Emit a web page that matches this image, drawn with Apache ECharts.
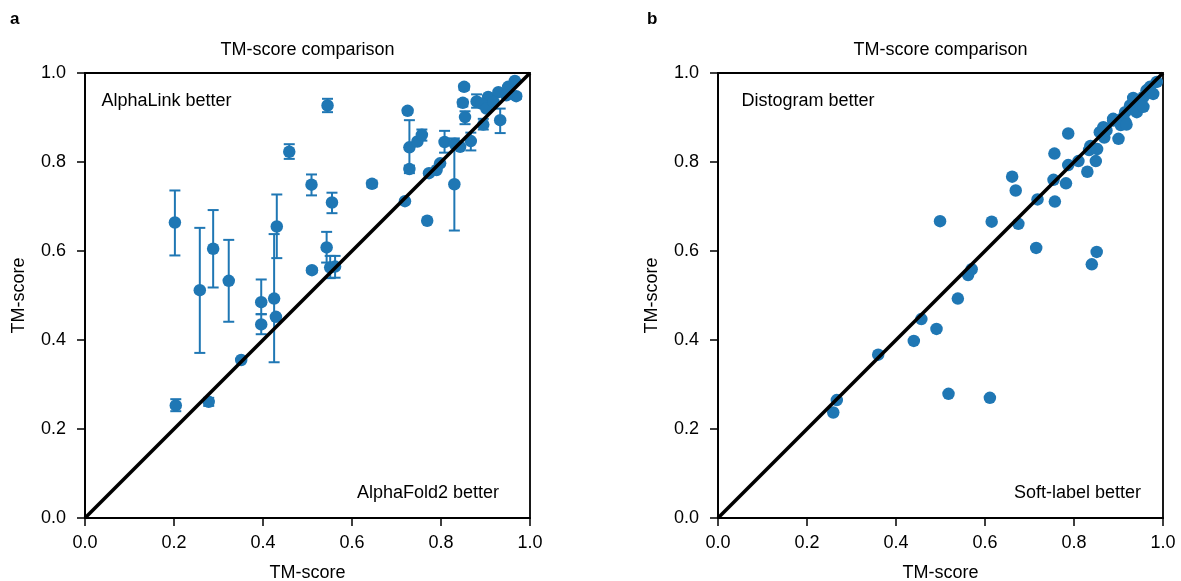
<!DOCTYPE html>
<html>
<head>
<meta charset="utf-8">
<script src="https://cdn.jsdelivr.net/npm/echarts@6/dist/echarts.min.js"></script>
<style>
  html, body { margin: 0; padding: 0; background: #fff; }
  #chart { width: 1181px; height: 581px; }
</style>
</head>
<body>
<div id="chart"></div>
<script>
// panel a: AlphaLink (y) vs AlphaFold2 (x), with error range on y
let aX = [0.202, 0.204, 0.258, 0.278, 0.288, 0.323, 0.351, 0.396, 0.396, 0.425, 0.431, 0.429, 0.459, 0.509, 0.510,
  0.545, 0.543, 0.555, 0.551, 0.562, 0.645, 0.719, 0.725, 0.729, 0.729, 0.747, 0.757, 0.769, 0.773, 0.790,
  0.798, 0.808, 0.830, 0.831, 0.843, 0.852, 0.849, 0.854, 0.867, 0.880, 0.895, 0.933, 0.906, 0.929, 0.951,
  0.966, 0.969, 0.891, 0.902, 0.918, 0.947]
let aY = [0.664, 0.253, 0.512, 0.261, 0.605, 0.533, 0.355, 0.485, 0.435, 0.493, 0.655, 0.452, 0.823, 0.749, 0.557,
  0.927, 0.608, 0.709, 0.563, 0.565, 0.751, 0.712, 0.915, 0.833, 0.784, 0.846, 0.861, 0.668, 0.775, 0.782,
  0.797, 0.845, 0.750, 0.841, 0.834, 0.969, 0.933, 0.901, 0.847, 0.936, 0.884, 0.894, 0.946, 0.957, 0.969,
  0.982, 0.948, 0.931, 0.920, 0.935, 0.950]
let aLow = [0.590, 0.240, 0.371, 0.252, 0.518, 0.441, 0.355, 0.458, 0.413, 0.350, 0.584, 0.452, 0.807, 0.725, 0.552,
  0.912, 0.574, 0.685, 0.539, 0.540, 0.744, 0.712, 0.910, 0.790, 0.775, 0.846, 0.848, 0.668, 0.775, 0.782,
  0.797, 0.821, 0.646, 0.841, 0.834, 0.962, 0.925, 0.885, 0.826, 0.922, 0.873, 0.865, 0.946, 0.957, 0.969,
  0.982, 0.942, 0.931, 0.920, 0.935, 0.950]
let aHigh = [0.736, 0.267, 0.652, 0.270, 0.692, 0.625, 0.355, 0.536, 0.458, 0.638, 0.727, 0.452, 0.840, 0.772, 0.562,
  0.942, 0.643, 0.731, 0.589, 0.589, 0.758, 0.712, 0.920, 0.894, 0.792, 0.846, 0.873, 0.668, 0.775, 0.782,
  0.797, 0.870, 0.853, 0.841, 0.834, 0.975, 0.940, 0.914, 0.866, 0.952, 0.897, 0.920, 0.946, 0.957, 0.969,
  0.982, 0.954, 0.931, 0.920, 0.935, 0.950]

// panel b: Distogram (y) vs Soft-label (x)
let bX = [0.259, 0.267, 0.360, 0.440, 0.457, 0.491, 0.499, 0.518, 0.539, 0.562, 0.570, 0.611, 0.615, 0.661, 0.669,
  0.675, 0.715, 0.718, 0.754, 0.756, 0.757, 0.782, 0.787, 0.787, 0.810, 0.830, 0.834, 0.837, 0.840, 0.849,
  0.851, 0.852, 0.858, 0.866, 0.868, 0.873, 0.888, 0.888, 0.900, 0.905, 0.907, 0.915, 0.918, 0.915, 0.926,
  0.933, 0.941, 0.948, 0.956, 0.956, 0.963, 0.971, 0.978, 0.986]
let bY = [0.237, 0.265, 0.367, 0.398, 0.447, 0.425, 0.667, 0.279, 0.493, 0.546, 0.559, 0.270, 0.666, 0.767, 0.736,
  0.661, 0.607, 0.716, 0.760, 0.819, 0.711, 0.752, 0.864, 0.793, 0.802, 0.778, 0.827, 0.836, 0.570, 0.802,
  0.598, 0.829, 0.867, 0.878, 0.855, 0.871, 0.893, 0.897, 0.852, 0.883, 0.897, 0.890, 0.884, 0.912, 0.927,
  0.944, 0.912, 0.931, 0.946, 0.924, 0.961, 0.969, 0.953, 0.980]

let tickLabels = ['0.0', '0.2', '0.4', '0.6', '0.8', '1.0']
let panelTitles = ['TM-score comparison', 'TM-score comparison']
let panelLetters = ['a', 'b']
let upperNotes = ['AlphaLink better', 'Distogram better']
let lowerNotes = ['AlphaFold2 better', 'Soft-label better']

let blue = '#1f77b4'
let font = "'Liberation Sans', Arial, sans-serif"
let gridLeft = [85, 718]
let upperNoteX = [16.5, 23.5]
let lowerNoteX = [414, 423]
let letterX = [10, 647]

function makeAxis (idx, isX) {
  return {
    type: 'value',
    gridIndex: idx,
    min: 0,
    max: 1,
    interval: 0.2,
    name: 'TM-score',
    nameLocation: 'middle',
    nameGap: isX ? 46 : 57,
    nameTextStyle: { color: '#000', fontSize: 18, fontFamily: font },
    axisLine: { show: true, onZero: false, lineStyle: { color: '#000', width: 1.8 } },
    axisTick: { show: true, inside: false, length: 8, lineStyle: { color: '#000', width: 1.5 } },
    axisLabel: {
      color: '#000',
      fontSize: 18,
      fontFamily: font,
      margin: isX ? 16 : 19,
      formatter: function (v) { return tickLabels[Math.round(v * 5)] }
    },
    splitLine: { show: false }
  }
}

// 误差线
function errorBarItem (params, api) {
  let x = api.value(0)
  let top = api.coord([x, api.value(2)])
  let bot = api.coord([x, api.value(1)])
  if (Math.abs(top[1] - bot[1]) < 0.5) return null
  let cap = 5.5
  let style = { stroke: blue, lineWidth: 2 }
  return {
    type: 'group',
    children: [
      { type: 'line', shape: { x1: top[0], y1: top[1], x2: bot[0], y2: bot[1] }, style: style },
      { type: 'line', shape: { x1: top[0] - cap, y1: top[1], x2: top[0] + cap, y2: top[1] }, style: style },
      { type: 'line', shape: { x1: bot[0] - cap, y1: bot[1], x2: bot[0] + cap, y2: bot[1] }, style: style }
    ]
  }
}

let aPoints = aX.map((x, i) => [x, aY[i]])
let aErr = aX.map((x, i) => [x, aLow[i], aHigh[i]])
let bPoints = bX.map((x, i) => [x, bY[i]])

function txt (x, y, text, align, weight, size) {
  return {
    type: 'text',
    x: x,
    y: y,
    z: 10,
    style: {
      text: text,
      fill: '#000',
      font: (weight || 'normal') + ' ' + (size || 18) + 'px ' + font,
      textAlign: align || 'left',
      textVerticalAlign: 'middle'
    }
  }
}

let graphics = []
for (let i = 0; i < 2; i++) {
  let gl = gridLeft[i]
  graphics.push(txt(gl + 222.5, 50, panelTitles[i], 'center'))
  graphics.push(txt(gl + upperNoteX[i], 101, upperNotes[i], 'left'))
  graphics.push(txt(gl + lowerNoteX[i], 493, lowerNotes[i], 'right'))
  graphics.push(txt(letterX[i], 19, panelLetters[i], 'left', 'bold', 17))
}

let gridBase = { top: 73, width: 445, height: 445, show: true, borderColor: '#000', borderWidth: 1.8, backgroundColor: 'transparent', containLabel: false, outerBoundsMode: 'none' }

let chart = echarts.init(document.getElementById('chart'), null, { renderer: 'canvas' })
let option = {
  backgroundColor: '#fff',
  animation: false,
  grid: [
    Object.assign({ left: gridLeft[0] }, gridBase),
    Object.assign({ left: gridLeft[1] }, gridBase)
  ],
  xAxis: [makeAxis(0, true), makeAxis(1, true)],
  yAxis: [makeAxis(0, false), makeAxis(1, false)],
  graphic: graphics,
  series: [
    {
      type: 'custom',
      xAxisIndex: 0,
      yAxisIndex: 0,
      renderItem: errorBarItem,
      encode: { x: 0, y: [1, 2] },
      data: aErr,
      z: 2
    },
    {
      type: 'scatter',
      xAxisIndex: 0,
      yAxisIndex: 0,
      symbolSize: 12.5,
      itemStyle: { color: blue, opacity: 1 },
      data: aPoints,
      z: 3
    },
    {
      type: 'scatter',
      xAxisIndex: 1,
      yAxisIndex: 1,
      symbolSize: 12.5,
      itemStyle: { color: blue, opacity: 1 },
      data: bPoints,
      z: 3
    },
    {
      type: 'line',
      xAxisIndex: 0,
      yAxisIndex: 0,
      data: [[0, 0], [1, 1]],
      symbol: 'none',
      lineStyle: { color: '#000', width: 3.5 },
      z: 5
    },
    {
      type: 'line',
      xAxisIndex: 1,
      yAxisIndex: 1,
      data: [[0, 0], [1, 1]],
      symbol: 'none',
      lineStyle: { color: '#000', width: 3.5 },
      z: 5
    }
  ]
}
chart.setOption(option)
</script>
</body>
</html>
